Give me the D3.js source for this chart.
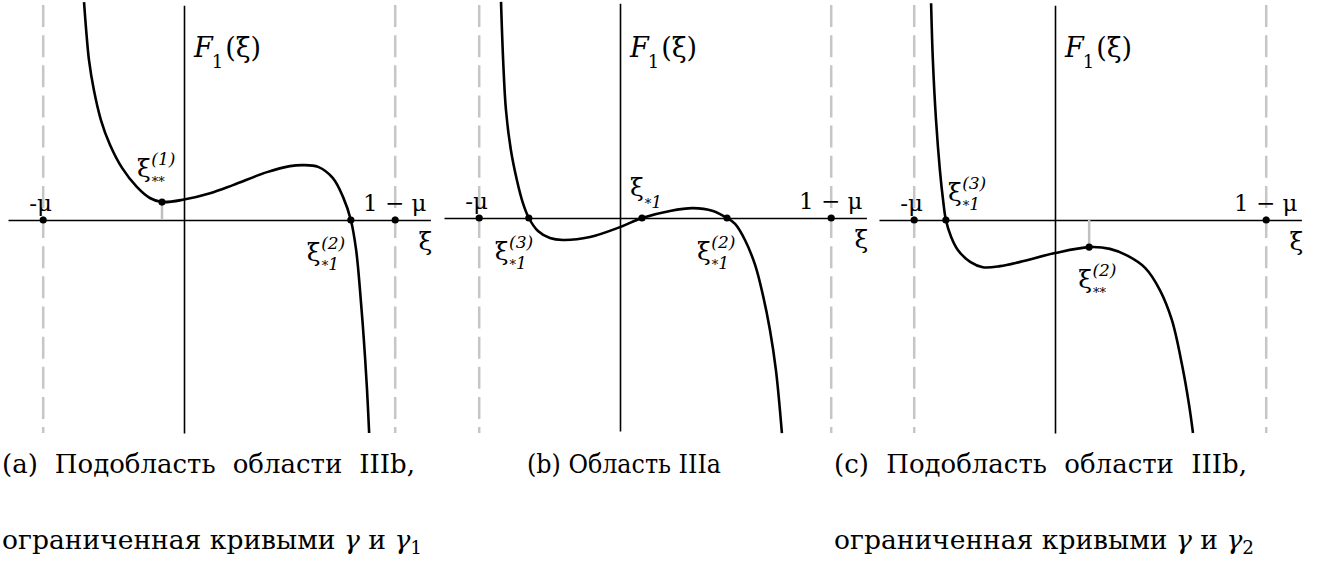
<!DOCTYPE html>
<html>
<head>
<meta charset="utf-8">
<script src="https://cdn.jsdelivr.net/npm/d3@7"></script>
<style>
  body { margin: 0; background: #fff; }
  svg { display: block; }
</style>
</head>
<body>
<svg id="chart" width="1324" height="565"></svg>
<script>
// ---- data ---------------------------------------------------------------
const MU = 0.4;
const tickValues = [-MU, 1 - MU];
const tickLabels = ["-μ", "1 − μ"];

// Sampled values of F1(ξ) as [ξ, F1] for the three parameter regions
const curveA = [
  [-0.284, 0.619], [-0.278, 0.540], [-0.270, 0.455], [-0.256, 0.369],
  [-0.236, 0.284], [-0.210, 0.213], [-0.176, 0.148], [-0.134, 0.094],
  [-0.097, 0.0625], [-0.0625, 0.051], [0.000, 0.058], [0.074, 0.076],
  [0.139, 0.099], [0.236, 0.136], [0.301, 0.153], [0.338, 0.156],
  [0.381, 0.151], [0.423, 0.119], [0.452, 0.065], [0.474, 0.000],
  [0.489, -0.085], [0.500, -0.199], [0.511, -0.341], [0.520, -0.483],
  [0.526, -0.605]
];
const curveB = [
  [-0.338, 0.614], [-0.332, 0.449], [-0.324, 0.307], [-0.310, 0.193],
  [-0.293, 0.108], [-0.276, 0.043], [-0.259, 0.000], [-0.233, -0.037],
  [-0.199, -0.057], [-0.162, -0.0625], [-0.085, -0.054], [0.000, -0.026],
  [0.0625, 0.000], [0.142, 0.020], [0.207, 0.028], [0.264, 0.020],
  [0.304, 0.000], [0.327, -0.017], [0.355, -0.0625], [0.384, -0.134],
  [0.406, -0.219], [0.426, -0.318], [0.443, -0.432], [0.460, -0.611]
];
const curveC = [
  [-0.352, 0.616], [-0.347, 0.455], [-0.338, 0.284], [-0.327, 0.142],
  [-0.318, 0.057], [-0.310, 0.000], [-0.295, -0.048], [-0.276, -0.085],
  [-0.241, -0.119], [-0.205, -0.134], [-0.156, -0.131], [-0.099, -0.119],
  [0.000, -0.094], [0.097, -0.077], [0.156, -0.082], [0.207, -0.102],
  [0.256, -0.136], [0.298, -0.199], [0.332, -0.284], [0.361, -0.412],
  [0.381, -0.526], [0.392, -0.605]
];

// Marked points: roots ξ*1 and extrema ξ** of F1
const markedA = [
  { xi: -0.0625, f: 0.051, sup: "(1)", sub: "**", stem: true },
  { xi: 0.474, f: 0, sup: "(2)", sub: "*1", stem: false }
];
const markedB = [
  { xi: -0.259, f: 0, sup: "(3)", sub: "*1", stem: false },
  { xi: 0.0625, f: 0, sup: "", sub: "*1", stem: false },
  { xi: 0.304, f: 0, sup: "(2)", sub: "*1", stem: false }
];
const markedC = [
  { xi: -0.310, f: 0, sup: "(3)", sub: "*1", stem: false },
  { xi: 0.097, f: -0.077, sup: "(2)", sub: "**", stem: true }
];

const captionsLine1 = ["(a) Подобласть области IIIb,", "(b) Область IIIa", "(c) Подобласть области IIIb,"];
const captionsLine2 = ["ограниченная кривыми", "", "ограниченная кривыми"];
const captionGammaIndex = ["1", "", "2"];

// ---- layout -------------------------------------------------------------
const UNIT = 352;                       // pixels per unit of ξ and F1
const X_DOMAIN = [-0.5, 0.7];
const Y_DOMAIN = [-0.605, 0.61];
const panels = [
  { ox: 184, oy: 220, curve: curveA, marked: markedA,
    labelOffsets: [[-25, -25], [-44, 41]] },
  { ox: 620, oy: 218, curve: curveB, marked: markedB,
    labelOffsets: [[-34, 42], [-12, -22], [-30, 42]] },
  { ox: 1055, oy: 220, curve: curveC, marked: markedC,
    labelOffsets: [[2, -19], [-11, 41]] }
];
const captionLayout = [
  { x: 2, y1: 473, y2: 549, w1: 413, w2: 420, justify: true },
  { x: 527, y1: 473, w1: 194, justify: false },
  { x: 834, y1: 473, y2: 549, w1: 413, w2: 420, justify: true }
];

const svg = d3.select("#chart");
const serif = "'DejaVu Serif', serif";

function xiLabel(g, x, y, sup, sub) {
  const t = g.append("text").attr("x", x).attr("y", y)
    .attr("font-family", serif).attr("font-size", 25).text("ξ");
  const w = t.node().getComputedTextLength();
  if (sup) {
    g.append("text").attr("x", x + w + 0.5).attr("y", y - 12)
      .attr("font-family", serif).attr("font-size", 17)
      .attr("font-style", "italic").text(sup);
  }
  if (sub) {
    const s = g.append("text").attr("x", x + w + 1).attr("y", y + (sup ? 9 : 12))
      .attr("font-family", serif);
    for (const ch of sub) {
      if (ch === "*") s.append("tspan").attr("font-size", 13).text("*");
      else s.append("tspan").attr("font-size", 17).attr("font-style", "italic").text(ch);
    }
  }
}

panels.forEach((p) => {
  const x = d3.scaleLinear().domain(X_DOMAIN)
    .range([p.ox + X_DOMAIN[0] * UNIT, p.ox + X_DOMAIN[1] * UNIT]);
  const y = d3.scaleLinear().domain(Y_DOMAIN)
    .range([p.oy - Y_DOMAIN[0] * UNIT, p.oy - Y_DOMAIN[1] * UNIT]);
  const g = svg.append("g");

  // asymptotes ξ = -μ and ξ = 1 - μ
  g.selectAll("line.asym").data(tickValues).join("line")
    .attr("class", "asym")
    .attr("x1", d => x(d)).attr("x2", d => x(d))
    .attr("y1", 5).attr("y2", 433)
    .attr("stroke", "#c6c6c6").attr("stroke-width", 2.5)
    .attr("stroke-dasharray", "22,8.15");

  // axes
  const xAxis = g.append("g").attr("transform", `translate(0,${y(0)})`)
    .call(d3.axisBottom(x).tickValues([]).tickSizeOuter(0));
  const yAxis = g.append("g").attr("transform", `translate(${x(0)},0)`)
    .call(d3.axisLeft(y).tickValues([]).tickSizeOuter(0));
  [xAxis, yAxis].forEach(a => a.select(".domain").attr("stroke", "#000").attr("stroke-width", 1.6));

  // tick labels above the axis
  const tl = g.append("g").attr("transform", `translate(0,${y(0)})`)
    .call(d3.axisTop(x).tickValues(tickValues)
      .tickFormat((d, i) => tickLabels[i]).tickSize(0).tickPadding(9));
  tl.select(".domain").remove();
  tl.selectAll("text").attr("font-family", serif).attr("font-size", 23).attr("fill", "#000")
    .attr("dx", (d, i) => (i === 0 ? -3 : -1));

  // stems from extrema to the axis
  g.selectAll("line.stem").data(p.marked.filter(d => d.stem)).join("line")
    .attr("class", "stem")
    .attr("x1", d => x(d.xi)).attr("x2", d => x(d.xi))
    .attr("y1", d => y(d.f)).attr("y2", y(0))
    .attr("stroke", "#c0c0c0").attr("stroke-width", 2.5);

  // curve
  g.append("path").datum(p.curve)
    .attr("d", d3.line().x(d => x(d[0])).y(d => y(d[1])).curve(d3.curveCatmullRom.alpha(0.5)))
    .attr("fill", "none").attr("stroke", "#000").attr("stroke-width", 2.6);

  // dots
  const dots = tickValues.map(v => ({ xi: v, f: 0 })).concat(p.marked);
  g.selectAll("circle").data(dots).join("circle")
    .attr("cx", d => x(d.xi)).attr("cy", d => y(d.f)).attr("r", 3.6).attr("fill", "#000");

  // labels of marked points
  p.marked.forEach((d, i) => {
    const [dx, dy] = p.labelOffsets[i];
    xiLabel(g, x(d.xi) + dx, y(d.f) + dy, d.sup, d.sub);
  });

  // axis names
  g.append("text").attr("x", x(X_DOMAIN[1]) + 2).attr("y", y(0) + 30)
    .attr("text-anchor", "end").attr("font-family", serif).attr("font-size", 25).text("ξ");
  const fl = g.append("text").attr("x", x(0) + 10).attr("y", 57)
    .attr("font-family", serif).attr("font-size", 27);
  fl.append("tspan").attr("font-style", "italic").text("F");
  fl.append("tspan").attr("font-size", 18).attr("dy", 11).attr("dx", -1).text("1");
  fl.append("tspan").attr("dy", -11).attr("dx", 2).text("(ξ)");
});

// captions
const capFont = "'DejaVu Serif', serif";
const capSize = 26;
captionLayout.forEach((c, i) => {
  const t1 = svg.append("text").attr("x", c.x).attr("y", c.y1)
    .attr("font-family", capFont).attr("font-size", capSize).text(captionsLine1[i]);
  const natural = t1.node().getComputedTextLength();
  if (c.justify && natural < c.w1) {
    // widen the word gaps so the line fills its box
    const gaps = captionsLine1[i].split(" ").length - 1;
    t1.attr("word-spacing", (c.w1 - natural) / gaps);
  } else {
    t1.attr("textLength", c.w1).attr("lengthAdjust", "spacingAndGlyphs");
  }
  if (captionsLine2[i]) {
    const t2 = svg.append("text").attr("x", c.x).attr("y", c.y2)
      .attr("font-family", capFont).attr("font-size", capSize);
    t2.append("tspan").text(captionsLine2[i] + " ");
    t2.append("tspan").attr("font-style", "italic").text("γ");
    t2.append("tspan").text(" и ");
    t2.append("tspan").attr("font-style", "italic").text("γ");
    t2.append("tspan").attr("font-size", 18).attr("dy", 5).text(captionGammaIndex[i]);
    t2.attr("textLength", c.w2).attr("lengthAdjust", "spacingAndGlyphs");
  }
});
</script>
</body>
</html>
